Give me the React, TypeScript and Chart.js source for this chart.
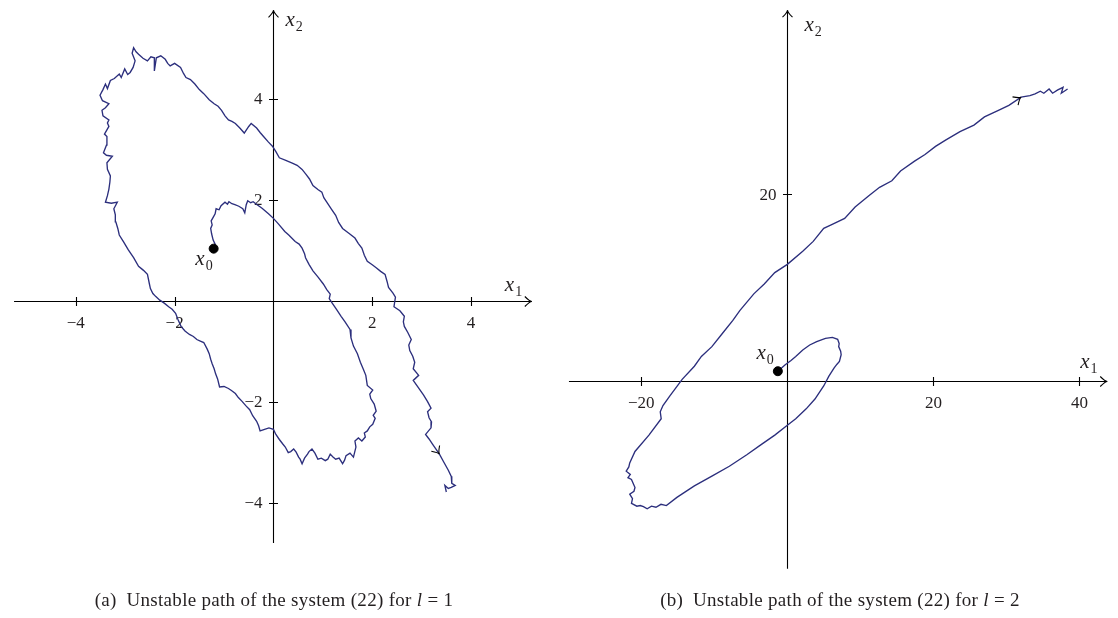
import React, { useEffect, useRef } from "react";
import { Chart, registerables } from "chart.js";
Chart.register(...registerables);

// ---------- data: (a) l = 1 ----------
const pathA_x1 = [
  -1.21, -1.18, -1.22, -1.25, -1.27, -1.24, -1.26, -1.22, -1.18, -1.16, -1.1, -1.06, -0.98, -0.93, -0.9, -0.84, -0.78,
  -0.7, -0.62, -0.58, -0.55, -0.52, -0.46, -0.41, -0.33, -0.23, -0.1, 0, 0.1, 0.23, 0.31, 0.44, 0.52, 0.58, 0.63, 0.65,
  0.72, 0.8, 0.9, 1.01, 1.08, 1.15, 1.13, 1.19, 1.28, 1.37, 1.45, 1.55, 1.57, 1.62, 1.7, 1.76, 1.82, 1.87, 1.9, 2.01,
  1.95, 1.97, 2.04, 2.08, 2.02, 2.06, 2.01, 1.95, 1.9, 1.84, 1.86, 1.79, 1.72, 1.65, 1.67, 1.62, 1.55, 1.47, 1.44, 1.4,
  1.33, 1.26, 1.2, 1.15, 1.1, 1.05, 0.97, 0.9, 0.84, 0.78, 0.72, 0.69, 0.63, 0.58, 0.54, 0.51, 0.46, 0.41, 0.35, 0.3,
  0.24, 0.19, 0.12, 0.05, 0, -0.09, -0.18, -0.27, -0.3, -0.34, -0.42, -0.48, -0.56, -0.63, -0.71, -0.77, -0.85, -0.91,
  -1.0, -1.09, -1.13, -1.17, -1.2, -1.24, -1.27, -1.3, -1.34, -1.41, -1.48, -1.55, -1.62, -1.7, -1.79, -1.87, -1.93,
  -1.98, -2.05, -2.12, -2.21, -2.3, -2.38, -2.44, -2.49, -2.51, -2.55, -2.63, -2.73, -2.83, -2.94, -3.03, -3.12, -3.15,
  -3.19, -3.2, -3.23, -3.16, -3.28, -3.4, -3.36, -3.33, -3.31, -3.3, -3.36, -3.37, -3.26, -3.38, -3.44, -3.38, -3.37,
  -3.42, -3.33, -3.36, -3.33, -3.45, -3.47, -3.4, -3.33, -3.46, -3.51, -3.45, -3.4, -3.36, -3.3, -3.22, -3.12, -3.08,
  -3.01, -2.95, -2.9, -2.84, -2.8, -2.86, -2.83, -2.78, -2.73, -2.64, -2.55, -2.48, -2.41, -2.41, -2.37, -2.28, -2.19,
  -2.14, -2.09, -2.0, -1.88, -1.82, -1.77, -1.68, -1.59, -1.5, -1.41, -1.3, -1.2, -1.12, -1.05, -0.98, -0.91, -0.84,
  -0.77, -0.68, -0.59, -0.5, -0.45, -0.34, -0.27, -0.2, -0.1, -0.02, 0.05, 0.12, 0.25, 0.37, 0.48, 0.58, 0.66, 0.73,
  0.8, 0.9, 0.98, 1.02, 1.08, 1.17, 1.26, 1.32, 1.4, 1.52, 1.65, 1.72, 1.79, 1.84, 1.9, 2.0, 2.08, 2.17, 2.26, 2.3,
  2.33, 2.42, 2.47, 2.44, 2.56, 2.65, 2.63, 2.65, 2.72, 2.79, 2.74, 2.76, 2.82, 2.86, 2.83, 2.94, 2.83, 2.93, 3.04,
  3.12, 3.19, 3.12, 3.15, 3.2, 3.19, 3.08, 3.15, 3.22, 3.29, 3.36, 3.45, 3.54, 3.6, 3.61, 3.68, 3.6, 3.54, 3.47, 3.5,
];
const pathA_x2 = [
  1.03, 1.12, 1.2, 1.32, 1.43, 1.5, 1.58, 1.65, 1.72, 1.82, 1.8, 1.88, 1.95, 1.91, 1.96, 1.92, 1.9,
  1.87, 1.82, 1.74, 1.9, 1.98, 1.94, 1.96, 1.9, 1.83, 1.72, 1.63, 1.52, 1.37, 1.3, 1.17, 1.12, 1.04, 0.93, 0.85,
  0.72, 0.59, 0.47, 0.33, 0.22, 0.13, 0.04, -0.05, -0.18, -0.31, -0.42, -0.57, -0.74, -0.9, -1.05, -1.22, -1.36, -1.48,
  -1.68, -1.77, -1.85, -1.94, -2.05, -2.19, -2.27, -2.33, -2.45, -2.5, -2.58, -2.62, -2.7, -2.78, -2.72, -2.78, -2.9,
  -3.1, -3.02, -3.07, -3.16, -3.23, -3.12, -3.14, -3.09, -3.04, -3.14, -3.17, -3.12, -3.14, -3.02, -2.94, -2.99, -3.04,
  -3.12, -3.23, -3.14, -3.1, -3.0, -2.94, -2.99, -3.01, -2.9, -2.84, -2.75, -2.65, -2.55, -2.52, -2.55, -2.58, -2.48,
  -2.39, -2.28, -2.16, -2.08, -2.0, -1.92, -1.84, -1.78, -1.74, -1.7, -1.71, -1.55, -1.45, -1.35, -1.25, -1.16, -1.05,
  -0.96, -0.83, -0.8, -0.77, -0.71, -0.67, -0.6, -0.51, -0.38, -0.25, -0.17, -0.12, -0.05, 0.01, 0.08, 0.14, 0.24,
  0.33, 0.52, 0.6, 0.68, 0.85, 1.01, 1.16, 1.3, 1.43, 1.56, 1.7, 1.82, 1.95, 1.93, 1.95, 2.08, 2.21, 2.35, 2.47, 2.6,
  2.73, 2.86, 2.88, 2.93, 3.08, 3.25, 3.3, 3.45, 3.52, 3.58, 3.66, 3.77, 3.82, 3.9, 3.96, 4.07, 4.18, 4.29, 4.2, 4.36,
  4.4, 4.49, 4.42, 4.59, 4.48, 4.52, 4.62, 4.75, 4.9, 5.01, 4.93, 4.88, 4.8, 4.75, 4.83, 4.81, 4.55, 4.81, 4.85, 4.78,
  4.7, 4.65, 4.7, 4.62, 4.5, 4.42, 4.38, 4.29, 4.18, 4.1, 3.98, 3.9, 3.85, 3.77, 3.66, 3.58, 3.55, 3.51, 3.42, 3.32,
  3.45, 3.51, 3.42, 3.33, 3.25, 3.14, 3.06, 2.95, 2.83, 2.78, 2.73, 2.68, 2.6, 2.5, 2.41, 2.28, 2.2, 2.15, 2.04, 1.95,
  1.82, 1.69, 1.55, 1.43, 1.34, 1.24, 1.13, 1.04, 0.9, 0.78, 0.71, 0.65, 0.58, 0.52, 0.38, 0.26, 0.15, 0.07, -0.12,
  -0.2, -0.31, -0.42, -0.51, -0.63, -0.77, -0.88, -0.99, -1.1, -1.22, -1.35, -1.48, -1.58, -1.72, -1.87, -2.0, -2.13,
  -2.2, -2.32, -2.4, -2.52, -2.65, -2.74, -2.84, -2.94, -3.04, -3.2, -3.36, -3.48, -3.62, -3.66, -3.7, -3.72, -3.66,
  -3.79,
];
const ticksA_x1 = [-4, -2, 2, 4];
const ticksA_x2 = [-4, -2, 2, 4];
const arrowA = [3.36, -3.04];

// ---------- data: (b) l = 2 ----------
const pathB_x1 = [
  -1.3, -0.29, 0.5, 1.15, 2.11, 3.06, 4.02, 5.22, 6.17, 6.89, 7.1, 7.03, 7.3, 7.37, 7.13, 6.8, 6.41, 5.69, 4.98, 3.78,
  2.58, 1.15, 0, -1.72, -3.64, -5.55, -7.94, -10.33, -12.73, -15.12, -16.56, -17.3, -17.99, -18.6, -19.19, -19.7,
  -20.14, -20.6, -21.34, -21.2, -21.58, -21.0, -20.86, -21.34, -21.82, -21.5, -22.06, -21.7, -21.58, -20.86, -18.95,
  -17.27, -17.4, -17.03, -16.08, -14.4, -12.73, -11.77, -10.33, -8.9, -7.46, -6.51, -4.59, -3.16, -1.72, 0, 2.11,
  3.54, 4.98, 5.93, 7.85, 9.28, 11.2, 12.63, 14.31, 15.5, 17.42, 18.85, 20.29, 21.72, 23.64, 25.55, 26.99, 28.9, 30.33,
  32.01, 33.21, 33.92, 34.64, 35.12, 35.84, 36.32, 37.03, 37.75, 37.51, 38.37,
];
const pathB_x2 = [
  1.05, 1.75, 2.2, 2.63, 3.33, 3.86, 4.21, 4.56, 4.67, 4.46, 4.0, 3.68, 3.2, 2.81, 2.11, 1.8, 1.4, 0.53, -0.53, -1.93,
  -2.98, -4.04, -4.74, -5.79, -6.84, -7.89, -9.12, -10.18, -11.23, -12.46, -13.33, -13.2, -13.51, -13.4, -13.68,
  -13.45, -13.33, -13.4, -13.09, -12.6, -12.11, -11.8, -11.4, -10.53, -10.35, -10.0, -9.65, -9.2, -8.77, -7.54, -5.79,
  -4.04, -3.3, -2.63, -1.58, 0.18, 1.58, 2.63, 3.68, 5.09, 6.49, 7.54, 9.33, 10.39, 11.61, 12.49, 13.89,
  14.95, 16.35, 16.7, 17.4, 18.63, 19.86, 20.74, 21.44, 22.49, 23.54, 24.25, 25.12, 25.82, 26.7, 27.4, 28.28, 28.98,
  29.51, 30.39, 30.56, 30.74, 31.02, 30.81, 31.26, 30.81, 31.16, 31.44, 30.81, 31.26,
];
const ticksB_x1 = [-20, 20, 40];
const ticksB_x2 = [20];
const arrowB = [32.01, 30.39];

const captionA = ["(a)", "Unstable path of the system (22) for", "l", "= 1"];
const captionB = ["(b)", "Unstable path of the system (22) for", "l", "= 2"];

const SERIF = "'Liberation Serif', 'DejaVu Serif', serif";
const INK = "#231f20";
const PATH_COLOR = "#2c2f7d";

function fmt(v: number): string {
  return v < 0 ? "\u2212" + Math.abs(v) : String(v);
}

function chevron(ctx: CanvasRenderingContext2D, x: number, y: number, ang: number, len: number, spread: number) {
  const c = Math.cos(ang);
  const s = Math.sin(ang);
  ctx.beginPath();
  ctx.moveTo(x - len * c + spread * s, y - len * s - spread * c);
  ctx.quadraticCurveTo(x - 2 * c, y - 2 * s, x, y);
  ctx.quadraticCurveTo(x - 2 * c, y - 2 * s, x - len * c - spread * s, y - len * s + spread * c);
  ctx.stroke();
}

function subLabel(ctx: CanvasRenderingContext2D, x: number, y: number, main: string, sub: string, align: "left" | "right") {
  ctx.save();
  ctx.fillStyle = INK;
  ctx.textBaseline = "alphabetic";
  const mainFont = "italic 21px " + SERIF;
  const subFont = "14px " + SERIF;
  ctx.font = mainFont;
  const w1 = ctx.measureText(main).width;
  ctx.font = subFont;
  const w2 = ctx.measureText(sub).width;
  const left = align === "left" ? x : x - w1 - w2 - 1;
  ctx.font = mainFont;
  ctx.textAlign = "left";
  ctx.fillText(main, left, y);
  ctx.font = subFont;
  ctx.fillText(sub, left + w1 + 1, y + 5);
  ctx.restore();
}

const axesPlugin = {
  id: "phaseAxes",
  beforeDatasetsDraw(chart: any, _args: any, o: any) {
    const ctx: CanvasRenderingContext2D = chart.ctx;
    const xs = chart.scales.x;
    const ys = chart.scales.y;
    const ox = Math.round(xs.getPixelForValue(0)) + 0.5;
    const oy = Math.round(ys.getPixelForValue(0)) + 0.5;
    const xa = xs.getPixelForValue(o.axisX[0]);
    const xb = xs.getPixelForValue(o.axisX[1]);
    const yb = ys.getPixelForValue(o.axisY[0]);
    const yt = ys.getPixelForValue(o.axisY[1]);
    ctx.save();
    ctx.strokeStyle = "#000";
    ctx.lineWidth = 1.1;
    ctx.beginPath();
    ctx.moveTo(xa, oy);
    ctx.lineTo(xb, oy);
    ctx.moveTo(ox, yb);
    ctx.lineTo(ox, yt);
    ctx.stroke();
    chevron(ctx, xb, oy, 0, 7, 5);
    chevron(ctx, ox, yt, -Math.PI / 2, 7, 5);
    ctx.beginPath();
    for (const v of o.ticksX) {
      const p = Math.round(xs.getPixelForValue(v)) + 0.5;
      ctx.moveTo(p, oy - 4.5);
      ctx.lineTo(p, oy + 4.5);
    }
    for (const v of o.ticksY) {
      const p = Math.round(ys.getPixelForValue(v)) + 0.5;
      ctx.moveTo(ox - 4.5, p);
      ctx.lineTo(ox + 4.5, p);
    }
    ctx.stroke();
    ctx.fillStyle = INK;
    ctx.font = "17px " + SERIF;
    ctx.textBaseline = "middle";
    ctx.textAlign = "center";
    for (const v of o.ticksX) {
      ctx.fillText(fmt(v), xs.getPixelForValue(v), oy + 22);
    }
    ctx.textAlign = "right";
    for (const v of o.ticksY) {
      ctx.fillText(fmt(v), ox - 11, ys.getPixelForValue(v) + 1);
    }
    ctx.restore();
    subLabel(ctx, xb + o.x1Label[0], oy + o.x1Label[1], "x", "1", "left");
    subLabel(ctx, ox + o.x2Label[0], yt + o.x2Label[1], "x", "2", "left");
  },
  afterDatasetsDraw(chart: any, _args: any, o: any) {
    const ctx: CanvasRenderingContext2D = chart.ctx;
    const pts = chart.getDatasetMeta(0).data;
    const raw = chart.data.datasets[0].data;
    let i = raw.findIndex((d: any) => d.x === o.arrowAt[0] && d.y === o.arrowAt[1]);
    if (i < 1) i = 1;
    const p = pts[i];
    const q = pts[i - 1];
    const ang = Math.atan2(p.y - q.y, p.x - q.x);
    ctx.save();
    ctx.strokeStyle = "#000";
    ctx.lineWidth = 1.1;
    chevron(ctx, p.x, p.y, ang, 7, 5);
    ctx.restore();
    const d = chart.getDatasetMeta(1).data[0];
    subLabel(ctx, d.x + o.x0Label[0], d.y + o.x0Label[1], "x", "0", "right");
  },
};

function PhaseChart(props: {
  px1: number[];
  px2: number[];
  tx: number[];
  ty: number[];
  xr: [number, number];
  yr: [number, number];
  axisX: [number, number];
  axisY: [number, number];
  arrowAt: number[];
  x0Label: [number, number];
  x1Label: [number, number];
  x2Label: [number, number];
  left: number;
}) {
  const ref = useRef<HTMLCanvasElement | null>(null);
  useEffect(() => {
    if (!ref.current) return;
    const pts = props.px1.map((v, i) => ({ x: v, y: props.px2[i] }));
    const chart = new Chart(ref.current, {
      type: "scatter",
      data: {
        datasets: [
          {
            data: pts,
            showLine: true,
            borderColor: PATH_COLOR,
            borderWidth: 1.35,
            pointRadius: 0,
            tension: 0,
            order: 2,
          },
          {
            data: [pts[0]],
            showLine: false,
            pointRadius: 4.5,
            backgroundColor: "#000",
            borderColor: "#000",
            order: 1,
          },
        ],
      },
      options: {
        animation: false,
        responsive: false,
        maintainAspectRatio: false,
        layout: { padding: 0 },
        events: [],
        scales: {
          x: { type: "linear", display: false, min: props.xr[0], max: props.xr[1] },
          y: { type: "linear", display: false, min: props.yr[0], max: props.yr[1] },
        },
        plugins: {
          legend: { display: false },
          tooltip: { enabled: false },
          phaseAxes: {
            axisX: props.axisX,
            axisY: props.axisY,
            ticksX: props.tx,
            ticksY: props.ty,
            arrowAt: props.arrowAt,
            x0Label: props.x0Label,
            x1Label: props.x1Label,
            x2Label: props.x2Label,
          },
        } as any,
      },
      plugins: [axesPlugin],
    });
    return () => chart.destroy();
  }, []);
  return (
    <canvas
      ref={ref}
      width={559}
      height={618}
      style={{ position: "absolute", left: props.left, top: 0, width: 559, height: 618 }}
    />
  );
}

function Caption(props: { parts: string[]; center: number }) {
  const [a, b, l, rest] = props.parts;
  return (
    <div
      style={{
        position: "absolute",
        left: props.center - 300,
        width: 600,
        top: 589,
        textAlign: "center",
        fontFamily: SERIF,
        fontSize: 19,
        letterSpacing: "0.3px",
        lineHeight: "22px",
        color: INK,
        whiteSpace: "pre",
      }}
    >
      {a}
      {"\u2002"}
      {b} <i>{l}</i> {rest}
    </div>
  );
}

export default function App() {
  return (
    <div style={{ position: "fixed", left: 0, top: 0, width: 1118, height: 618, background: "#fff", overflow: "hidden" }}>
      <PhaseChart
        px1={pathA_x1}
        px2={pathA_x2}
        tx={ticksA_x1}
        ty={ticksA_x2}
        xr={[-5.423, 5.669]}
        yr={[-6.177, 5.846]}
        axisX={[-5.25, 5.23]}
        axisY={[-4.8, 5.75]}
        arrowAt={arrowA}
        x0Label={[-1, 16]}
        x1Label={[-27, -11]}
        x2Label={[12, 16]}
        left={0}
      />
      <PhaseChart
        px1={pathB_x1}
        px2={pathB_x2}
        tx={ticksB_x1}
        ty={ticksB_x2}
        xr={[-30.51, 44.52]}
        yr={[-24.78, 40.2]}
        axisX={[-29.9, 43.8]}
        axisY={[-20.1, 39.7]}
        arrowAt={arrowB}
        x0Label={[-4, -12]}
        x1Label={[-27, -14]}
        x2Label={[17, 21]}
        left={559}
      />
      <Caption parts={captionA} center={274} />
      <Caption parts={captionB} center={840} />
    </div>
  );
}
